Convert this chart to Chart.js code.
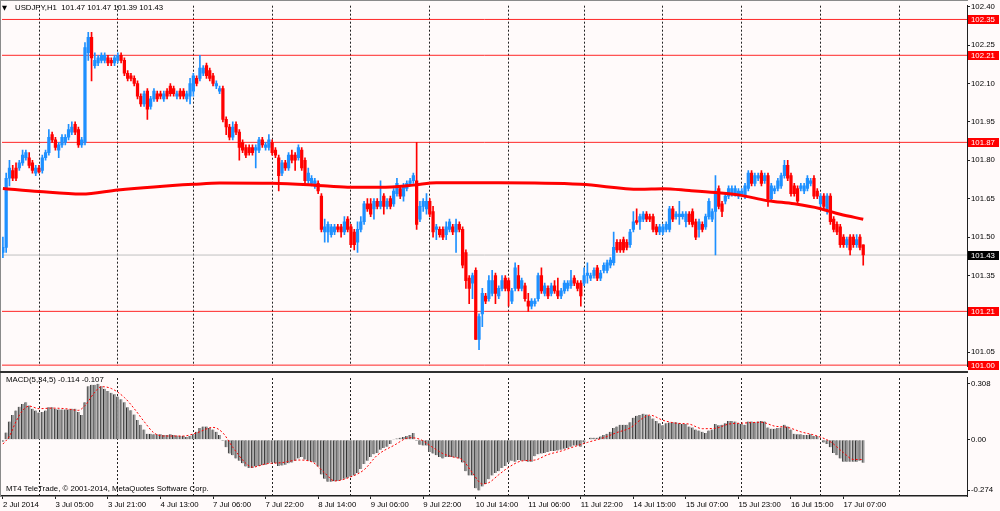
<!DOCTYPE html>
<html><head><meta charset="utf-8">
<script src="https://cdn.jsdelivr.net/npm/chart.js@4.4.1/dist/chart.umd.min.js"></script>
<style>
html,body{margin:0;padding:0;background:#FFFAFA;width:1000px;height:511px;overflow:hidden;position:relative}
#c1{position:absolute;left:0;top:0}
#c2{position:absolute;left:0;top:372px}
.ln{position:absolute}
</style></head><body>
<canvas id="c1" width="1000" height="372" style="width:1000px;height:372px"></canvas>
<canvas id="c2" width="1000" height="139" style="width:1000px;height:139px"></canvas>
<div class="ln" style="left:0;top:0;width:968px;height:1px;background:#8a8a8a"></div>
<div class="ln" style="left:0;top:0;width:1px;height:497px;background:#8a8a8a"></div>
<div class="ln" style="left:0;top:371px;width:968px;height:2px;background:#303030"></div>
<script>
// ---------- DATA ----------
const symbolTitle = "USDJPY,H1  101.47 101.47 101.39 101.43";
const macdTitle = "MACD(5,34,5) -0.114 -0.107";
const copyright = "MT4 TeleTrade, \u00A9 2001-2014, MetaQuotes Software Corp.";

const open = [
101.44,101.46,101.73,101.76,101.77,101.77,101.79,101.81,101.81,101.79,
101.75,101.77,101.76,101.81,101.83,101.90,101.88,101.84,101.86,101.87,
101.89,101.91,101.94,101.92,101.86,101.87,102.22,102.28,102.17,102.18,
102.19,102.19,102.20,102.19,102.18,102.19,102.21,102.19,102.14,102.13,
102.12,102.10,102.05,102.02,102.07,102.01,102.04,102.06,102.06,102.04,
102.07,102.09,102.08,102.05,102.07,102.07,102.04,102.05,102.07,102.12,
102.12,102.14,102.17,102.15,102.13,102.09,102.07,102.08,101.96,101.93,
101.89,101.94,101.91,101.87,101.85,101.85,101.85,101.84,101.84,101.88,
101.85,101.85,101.87,101.84,101.81,101.75,101.79,101.77,101.82,101.82,
101.81,101.84,101.80,101.72,101.71,101.70,101.71,101.66,101.52,101.52,
101.51,101.52,101.54,101.54,101.52,101.57,101.54,101.52,101.48,101.53,
101.56,101.63,101.63,101.61,101.64,101.62,101.66,101.62,101.65,101.63,
101.67,101.69,101.66,101.69,101.71,101.72,101.72,101.57,101.62,101.61,
101.64,101.60,101.53,101.53,101.53,101.51,101.53,101.54,101.52,101.55,
101.53,101.44,101.34,101.32,101.37,101.10,101.20,101.27,101.26,101.28,
101.35,101.27,101.30,101.34,101.33,101.25,101.30,101.35,101.30,101.31,
101.25,101.23,101.24,101.26,101.35,101.28,101.30,101.28,101.31,101.29,
101.27,101.29,101.30,101.31,101.34,101.32,101.32,101.32,101.35,101.34,
101.35,101.38,101.34,101.37,101.37,101.39,101.40,101.48,101.48,101.49,
101.48,101.47,101.53,101.565,101.56,101.57,101.59,101.58,101.58,101.54,
101.52,101.52,101.53,101.53,101.61,101.58,101.58,101.58,101.56,101.59,
101.60,101.56,101.53,101.55,101.54,101.58,101.57,101.60,101.69,101.63,
101.64,101.66,101.67,101.67,101.66,101.67,101.66,101.69,101.75,101.71,
101.73,101.75,101.72,101.74,101.65,101.68,101.69,101.70,101.74,101.78,
101.74,101.70,101.69,101.69,101.68,101.69,101.71,101.73,101.68,101.63,
101.66,101.61,101.66,101.57,101.55,101.54,101.50,101.47,101.50,101.50,
101.47,101.50,101.47];
const high = [
101.50,101.75,101.80,101.78,101.79,101.80,101.84,101.84,101.83,101.80,
101.78,101.78,101.82,101.84,101.92,101.91,101.89,101.87,101.90,101.90,
101.94,101.95,101.95,101.93,101.89,102.26,102.30,102.30,102.22,102.21,
102.22,102.22,102.21,102.20,102.21,102.22,102.22,102.20,102.15,102.14,
102.13,102.11,102.06,102.07,102.08,102.05,102.08,102.07,102.07,102.07,
102.08,102.10,102.09,102.07,102.08,102.08,102.07,102.12,102.14,102.13,
102.21,102.17,102.18,102.16,102.14,102.11,102.09,102.09,101.97,101.94,
101.95,101.95,101.92,101.88,101.86,101.86,101.86,101.86,101.89,101.89,
101.87,101.90,101.88,101.85,101.82,101.80,101.80,101.83,101.84,101.83,
101.86,101.85,101.81,101.77,101.74,101.73,101.72,101.67,101.57,101.56,
101.55,101.55,101.55,101.55,101.58,101.58,101.55,101.53,101.56,101.58,
101.64,101.65,101.65,101.65,101.65,101.72,101.67,101.65,101.66,101.69,
101.73,101.70,101.71,101.72,101.73,101.75,101.87,101.64,101.65,101.67,
101.65,101.62,101.55,101.54,101.54,101.56,101.57,101.55,101.57,101.56,
101.54,101.45,101.35,101.36,101.38,101.20,101.30,101.28,101.35,101.37,
101.36,101.31,101.35,101.35,101.34,101.30,101.40,101.39,101.34,101.32,
101.28,101.26,101.26,101.36,101.38,101.32,101.31,101.32,101.33,101.34,
101.30,101.33,101.33,101.37,101.35,101.33,101.33,101.38,101.40,101.36,
101.38,101.39,101.37,101.40,101.41,101.42,101.52,101.49,101.49,101.50,
101.49,101.53,101.60,101.61,101.59,101.60,101.60,101.59,101.59,101.55,
101.55,101.55,101.56,101.62,101.62,101.60,101.64,101.60,101.60,101.60,
101.61,101.57,101.57,101.56,101.59,101.65,101.61,101.74,101.70,101.64,
101.67,101.70,101.70,101.70,101.69,101.69,101.71,101.76,101.76,101.75,
101.75,101.76,101.75,101.75,101.71,101.70,101.73,101.75,101.80,101.80,
101.75,101.71,101.70,101.71,101.71,101.74,101.73,101.74,101.69,101.67,
101.67,101.67,101.67,101.58,101.56,101.55,101.51,101.50,101.51,101.51,
101.51,101.51,101.47];
const low = [
101.42,101.44,101.70,101.72,101.72,101.76,101.78,101.80,101.77,101.75,
101.74,101.75,101.75,101.80,101.82,101.87,101.84,101.81,101.85,101.86,
101.88,101.90,101.90,101.85,101.85,101.86,102.19,102.11,102.16,102.17,
102.18,102.18,102.17,102.17,102.17,102.18,102.18,102.13,102.11,102.11,
102.09,102.04,102.01,102.01,101.96,102.00,102.03,102.03,102.04,102.03,
102.04,102.05,102.05,102.04,102.04,102.04,102.03,102.02,102.05,102.09,
102.11,102.13,102.12,102.11,102.09,102.08,102.06,101.95,101.90,101.88,
101.88,101.90,101.80,101.83,101.81,101.82,101.82,101.77,101.83,101.85,
101.84,101.84,101.82,101.81,101.68,101.74,101.76,101.76,101.79,101.76,
101.80,101.76,101.71,101.71,101.70,101.69,101.67,101.52,101.48,101.48,
101.50,101.51,101.52,101.50,101.51,101.52,101.46,101.45,101.44,101.52,
101.55,101.60,101.58,101.57,101.61,101.61,101.59,101.61,101.61,101.62,
101.66,101.65,101.64,101.68,101.70,101.71,101.53,101.56,101.60,101.59,
101.58,101.50,101.49,101.50,101.49,101.49,101.52,101.51,101.44,101.52,
101.38,101.30,101.24,101.26,101.10,101.06,101.15,101.24,101.25,101.27,
101.24,101.26,101.29,101.29,101.23,101.24,101.29,101.29,101.29,101.25,
101.21,101.22,101.23,101.25,101.28,101.27,101.26,101.27,101.28,101.26,
101.26,101.28,101.29,101.30,101.31,101.29,101.23,101.31,101.32,101.33,
101.34,101.33,101.33,101.36,101.36,101.38,101.39,101.44,101.44,101.44,
101.45,101.46,101.52,101.55,101.53,101.56,101.56,101.56,101.52,101.51,
101.51,101.51,101.52,101.52,101.56,101.57,101.55,101.57,101.54,101.55,
101.54,101.49,101.50,101.52,101.53,101.57,101.56,101.43,101.61,101.58,
101.63,101.65,101.66,101.66,101.65,101.66,101.65,101.68,101.70,101.70,
101.72,101.70,101.71,101.62,101.64,101.67,101.68,101.69,101.73,101.72,
101.66,101.66,101.63,101.68,101.67,101.68,101.70,101.65,101.65,101.62,
101.61,101.59,101.55,101.52,101.51,101.46,101.46,101.46,101.43,101.46,
101.46,101.45,101.39];
const close = [
101.46,101.73,101.77,101.73,101.73,101.79,101.82,101.83,101.78,101.76,
101.77,101.755,101.81,101.83,101.89,101.88,101.85,101.86,101.89,101.89,
101.92,101.93,101.91,101.86,101.88,102.24,102.28,102.20,102.19,102.20,
102.21,102.21,102.18,102.18,102.20,102.21,102.19,102.14,102.12,102.12,
102.10,102.05,102.02,102.06,102.00,102.04,102.07,102.04,102.05,102.06,
102.05,102.06,102.06,102.06,102.05,102.05,102.06,102.10,102.13,102.10,
102.16,102.16,102.13,102.12,102.10,102.10,102.08,101.96,101.93,101.89,
101.93,101.91,101.85,101.84,101.82,101.83,101.83,101.85,101.88,101.86,
101.86,101.88,101.83,101.82,101.74,101.79,101.77,101.82,101.80,101.80,
101.85,101.77,101.72,101.75,101.73,101.72,101.68,101.53,101.54,101.55,
101.54,101.54,101.53,101.52,101.56,101.53,101.47,101.47,101.53,101.56,
101.63,101.61,101.59,101.64,101.62,101.64,101.62,101.64,101.62,101.68,
101.71,101.66,101.70,101.71,101.72,101.74,101.55,101.62,101.64,101.64,
101.59,101.52,101.54,101.51,101.50,101.54,101.56,101.52,101.55,101.53,
101.39,101.33,101.30,101.35,101.10,101.19,101.28,101.25,101.33,101.33,
101.28,101.30,101.33,101.30,101.29,101.29,101.38,101.30,101.33,101.26,
101.23,101.25,101.25,101.35,101.29,101.31,101.27,101.31,101.29,101.27,
101.29,101.32,101.32,101.33,101.32,101.30,101.27,101.35,101.36,101.35,
101.37,101.34,101.36,101.39,101.40,101.41,101.46,101.45,101.45,101.45,
101.46,101.52,101.56,101.557,101.58,101.59,101.57,101.57,101.53,101.52,
101.54,101.54,101.55,101.61,101.57,101.59,101.59,101.59,101.59,101.56,
101.55,101.50,101.56,101.53,101.58,101.64,101.60,101.68,101.62,101.60,
101.66,101.69,101.69,101.69,101.68,101.68,101.70,101.75,101.71,101.74,
101.74,101.71,101.74,101.65,101.70,101.69,101.72,101.74,101.78,101.73,
101.67,101.67,101.64,101.70,101.70,101.73,101.72,101.66,101.66,101.66,
101.62,101.66,101.56,101.53,101.52,101.47,101.47,101.49,101.45,101.47,
101.49,101.46,101.43];

// moving average, read at these bar indexes
const maBars = [0,11,24,35,46,58,66,82,95,105,115,125,132,151,176,194,201,209,217,224,233,241,249,255,262];
const maValues = [101.690,101.678,101.668,101.684,101.696,101.706,101.711,101.710,101.703,101.695,101.695,101.703,101.712,101.712,101.706,101.687,101.689,101.682,101.674,101.665,101.642,101.630,101.611,101.589,101.570];

const macdHist = [
-0.010,0.040,0.100,0.135,0.160,0.180,0.195,0.205,0.187,0.170,
0.160,0.149,0.152,0.160,0.178,0.178,0.170,0.166,0.166,0.166,
0.166,0.170,0.170,0.152,0.135,0.205,0.292,0.300,0.300,0.306,
0.292,0.278,0.266,0.257,0.248,0.236,0.222,0.205,0.178,0.161,
0.138,0.108,0.082,0.056,0.033,0.033,0.030,0.030,0.030,0.026,
0.026,0.030,0.026,0.024,0.021,0.021,0.016,0.021,0.030,0.044,
0.065,0.073,0.073,0.065,0.056,0.044,0.026,-0.005,-0.040,-0.075,
-0.084,-0.101,-0.114,-0.128,-0.145,-0.154,-0.154,-0.145,-0.142,-0.138,
-0.135,-0.128,-0.124,-0.128,-0.142,-0.140,-0.136,-0.128,-0.124,-0.114,
-0.101,-0.093,-0.107,-0.114,-0.119,-0.124,-0.145,-0.189,-0.212,-0.229,
-0.229,-0.226,-0.224,-0.219,-0.212,-0.206,-0.201,-0.194,-0.180,-0.159,
-0.131,-0.114,-0.093,-0.079,-0.072,-0.054,-0.044,-0.037,-0.023,0.002,
0.007,0.012,0.016,0.021,0.026,0.038,-0.005,-0.026,-0.031,-0.031,
-0.066,-0.075,-0.084,-0.093,-0.101,-0.093,-0.093,-0.093,-0.096,-0.101,
-0.124,-0.171,-0.194,-0.194,-0.264,-0.276,-0.254,-0.241,-0.215,-0.194,
-0.180,-0.171,-0.154,-0.142,-0.124,-0.114,-0.119,-0.110,-0.114,-0.114,
-0.119,-0.119,-0.089,-0.079,-0.075,-0.072,-0.066,-0.061,-0.061,-0.058,
-0.054,-0.049,-0.044,-0.037,-0.031,-0.031,-0.037,-0.014,0.003,0.012,
0.012,0.012,0.019,0.026,0.033,0.044,0.065,0.073,0.082,0.082,
0.082,0.096,0.121,0.131,0.135,0.143,0.138,0.131,0.117,0.103,
0.091,0.079,0.091,0.094,0.096,0.096,0.091,0.086,0.086,0.073,
0.068,0.056,0.051,0.044,0.038,0.051,0.056,0.086,0.079,0.082,
0.091,0.103,0.103,0.100,0.091,0.086,0.082,0.100,0.100,0.096,
0.100,0.103,0.100,0.068,0.061,0.061,0.065,0.068,0.082,0.073,
0.056,0.033,0.030,0.030,0.026,0.026,0.030,0.021,0.021,-0.002,
-0.014,-0.023,-0.040,-0.072,-0.084,-0.101,-0.119,-0.119,-0.119,-0.119,
-0.119,-0.114,-0.125];

// signal line, read at these bar indexes
const signalBars = [0,2,4,6,8,11,15,19,23,25,28,30,33,37,40,43,46,49,55,59,64,67,70,74,76,80,85,90,94,98,101,106,110,114,119,124,127,131,134,137,140,143,146,148,151,154,158,162,166,170,174,178,183,187,191,195,197,201,205,209,213,217,221,225,231,235,239,243,248,252,256,259,262];
const signalValues = [-0.023,0.02,0.10,0.16,0.184,0.17,0.173,0.17,0.161,0.187,0.26,0.29,0.28,0.231,0.17,0.10,0.038,0.021,0.021,0.038,0.068,0.038,-0.04,-0.128,-0.149,-0.131,-0.124,-0.11,-0.119,-0.18,-0.224,-0.201,-0.163,-0.084,-0.031,0.012,0.003,-0.042,-0.075,-0.093,-0.11,-0.18,-0.24,-0.233,-0.19,-0.15,-0.115,-0.11,-0.08,-0.061,-0.037,-0.014,0.012,0.04,0.065,0.12,0.135,0.107,0.091,0.086,0.061,0.063,0.086,0.091,0.096,0.075,0.068,0.044,0.021,-0.01,-0.07,-0.107,-0.107];

// horizontal levels
const levelValues = [102.35, 102.21, 101.87, 101.21, 101.00];
const currentPrice = 101.43;

// axes
const priceTicks = [102.40,102.25,102.10,101.95,101.80,101.65,101.50,101.35,101.20,101.05];
const macdTicks = [0.308, 0, -0.274];
const timeTickBars = [0,16,32,48,64,80,96,112,128,144,160,176,192,208,224,240,256];
const timeTickLabels = ["2 Jul 2014","3 Jul 05:00","3 Jul 21:00","4 Jul 13:00","7 Jul 06:00","7 Jul 22:00","8 Jul 14:00","9 Jul 06:00","9 Jul 22:00","10 Jul 14:00","11 Jul 06:00","11 Jul 22:00","14 Jul 15:00","15 Jul 07:00","15 Jul 23:00","16 Jul 15:00","17 Jul 07:00"];
const dayStartBars = [11,35,58,82,106,130,154,177,201,225,249,273];

// ---------- STYLE ----------
const X_MIN = -0.27, X_MAX = 293.6;
const FONT = "Liberation Sans, Arial, sans-serif";
const FSIZE = 7.8;
const BLUE = '#1E90FF', RED = '#FF0000';

Chart.defaults.font.family = FONT;
Chart.defaults.font.size = FSIZE;
Chart.defaults.color = '#000';

const overlay = {
  id: 'overlay',
  afterDraw(chart, args, opts) {
    const ctx = chart.ctx;
    ctx.save();
    ctx.textBaseline = 'middle';
    (opts.texts || []).forEach(t => {
      ctx.font = (t.size || FSIZE) + 'px ' + (t.family || FONT);
      ctx.fillStyle = t.color || '#000';
      ctx.fillText(t.text, t.x, t.y);
    });
    ctx.font = FSIZE + 'px ' + FONT;
    (opts.boxes || []).forEach(b => {
      const y = chart.scales.y.getPixelForValue(b.value);
      ctx.fillStyle = b.bg;
      ctx.fillRect(968, Math.round(y) - 4, 31, 9);
      ctx.fillStyle = '#fff';
      ctx.fillText(b.value.toFixed(2), 971, Math.round(y) + 0.5);
    });
    ctx.restore();
  }
};

const idx = open.map((_, i) => i);
const isUp = i => close[i] >= open[i];

const levelDatasets = levelValues.map(v => ({
  type: 'line', data: [{x: X_MIN, y: v}, {x: X_MAX, y: v}],
  borderColor: 'rgba(255,0,0,0.85)', borderWidth: 1, pointRadius: 0, order: 5
}));
levelDatasets.push({
  type: 'line', data: [{x: X_MIN, y: currentPrice}, {x: X_MAX, y: currentPrice}],
  borderColor: '#C0C0C0', borderWidth: 1, pointRadius: 0, order: 5
});

const dayGrid = {
  type: 'linear', min: X_MIN, max: X_MAX, bounds: 'data', offset: false,
  afterBuildTicks: s => { s.ticks = dayStartBars.map(v => ({value: v})); },
  afterFit: s => { s.height = 0; },
  ticks: {display: false},
  grid: {display: true, offset: false, drawOnChartArea: true, drawTicks: false, color: '#222', lineWidth: 1, borderDash: [2, 2]},
  border: {display: false, dash: [2, 2]}
};

new Chart(document.getElementById('c1'), {
  type: 'bar',
  data: {
    datasets: [
      ...levelDatasets,
      { type: 'bar', data: idx.map(i => ({x: i, y: [low[i], high[i]]})),
        backgroundColor: idx.map(i => isUp(i) ? BLUE : RED),
        barThickness: 1, grouped: false, order: 4 },
      { type: 'bar', data: idx.map(i => ({x: i, y: [open[i], close[i]]})),
        backgroundColor: idx.map(i => isUp(i) ? BLUE : RED),
        barThickness: 2.6, minBarLength: 1, grouped: false, order: 3 },
      { type: 'line', data: maBars.map((b, k) => ({x: b, y: maValues[k]})),
        borderColor: RED, borderWidth: 3, pointRadius: 0, cubicInterpolationMode: 'monotone', order: 1 }
    ]
  },
  options: {
    responsive: false, animation: false, events: [],
    layout: {padding: {left: 2, top: 1, right: 0, bottom: 1}},
    plugins: {
      legend: {display: false}, tooltip: {enabled: false},
      overlay: {
        texts: [
          {text: '\u25BC', x: 2, y: 8, size: 6.5, family: 'DejaVu Sans'},
          {text: symbolTitle, x: 15, y: 8}
        ],
        boxes: [
          ...levelValues.map(v => ({value: v, bg: '#FF0000'})),
          {value: currentPrice, bg: '#000000'}
        ]
      }
    },
    scales: {
      x: dayGrid,
      y: {
        position: 'right', min: 100.9954, max: 102.4038, beginAtZero: false, bounds: 'data',
        afterBuildTicks: s => { s.ticks = priceTicks.map(v => ({value: v})); },
        afterFit: s => { s.width = 33; },
        ticks: {padding: 1, color: '#000', callback: v => Number(v).toFixed(2)},
        grid: {drawOnChartArea: false, drawTicks: true, tickLength: 3, color: '#202020'},
        border: {display: true, color: '#202020', width: 1}
      }
    }
  },
  plugins: [overlay]
});

new Chart(document.getElementById('c2'), {
  type: 'bar',
  data: {
    datasets: [
      { type: 'bar', data: idx.map(i => ({x: i, y: macdHist[i]})),
        backgroundColor: '#9C9C9C', borderColor: '#343434',
        borderWidth: {left: 1, right: 0, top: 0, bottom: 0}, borderSkipped: false,
        barThickness: 2.7, grouped: false, order: 3 },
      { type: 'line', data: signalBars.map((b, k) => ({x: b, y: signalValues[k]})),
        borderColor: RED, borderWidth: 1, borderDash: [2, 2], pointRadius: 0,
        cubicInterpolationMode: 'monotone', order: 1 }
    ]
  },
  options: {
    responsive: false, animation: false, events: [],
    layout: {padding: {left: 2, top: 1, right: 0, bottom: 0}},
    plugins: {
      legend: {display: false}, tooltip: {enabled: false},
      overlay: {
        texts: [
          {text: macdTitle, x: 6, y: 8},
          {text: copyright, x: 6, y: 117}
        ]
      }
    },
    scales: {
      x: {
        type: 'linear', min: X_MIN, max: X_MAX, position: 'bottom', bounds: 'data', offset: false,
        afterBuildTicks: s => { s.ticks = timeTickBars.map(v => ({value: v})); },
        afterFit: s => { s.height = 15; },
        ticks: {align: 'start', autoSkip: false, maxRotation: 0, minRotation: 0, padding: 1, color: '#000',
          callback: (v, i) => timeTickLabels[i]},
        grid: {offset: false, drawOnChartArea: false, drawTicks: true, tickLength: 3, color: '#202020'},
        border: {display: true, color: '#202020', width: 1.5}
      },
      xg: Object.assign({}, dayGrid, {position: 'top'}),
      y: {
        position: 'right', min: -0.306, max: 0.339, beginAtZero: false, bounds: 'data',
        afterBuildTicks: s => { s.ticks = macdTicks.map(v => ({value: v})); },
        afterFit: s => { s.width = 33; },
        ticks: {padding: 1, color: '#000', callback: v => v === 0 ? '0.00' : Number(v).toFixed(3)},
        grid: {drawOnChartArea: false, drawTicks: true, tickLength: 3, color: '#202020'},
        border: {display: true, color: '#202020', width: 1}
      }
    }
  },
  plugins: [overlay]
});
</script>
</body></html>
